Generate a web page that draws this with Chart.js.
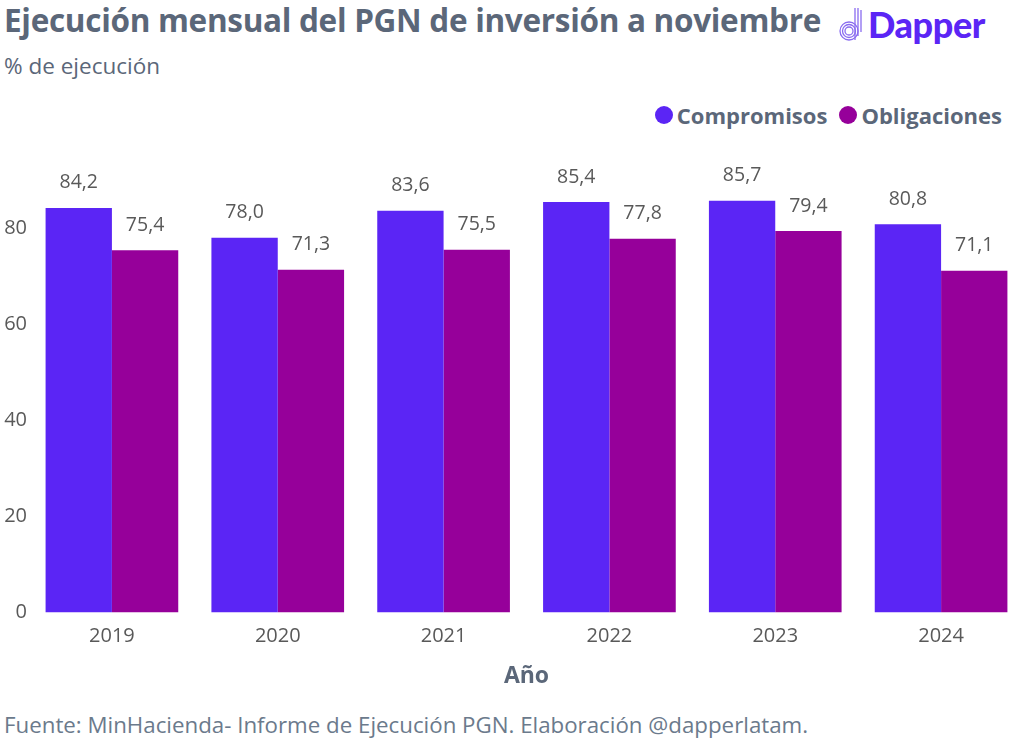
<!DOCTYPE html>
<html><head><meta charset="utf-8">
<script src="https://cdn.jsdelivr.net/npm/chart.js@4"></script>
<style>
body{margin:0;background:#fff;width:1024px;height:739px;overflow:hidden;position:relative;font-family:"Open Sans",sans-serif;}
#title{position:absolute;left:4px;top:-2px;font-size:31.5px;font-weight:700;color:#5b6779;letter-spacing:-0.3px;white-space:nowrap;}
#sub{position:absolute;left:4px;top:50px;font-size:22.5px;color:#5b6779;white-space:nowrap;}
#logo{position:absolute;left:838px;top:2px;display:flex;align-items:center;}
#logo span{font-size:36px;font-weight:900;color:#5b25f5;font-family:"Lato",sans-serif;letter-spacing:-0.4px;}
#legend{position:absolute;right:22px;top:100px;display:flex;align-items:center;font-size:22px;font-weight:700;color:#5b6779;white-space:nowrap;}
#legend i{display:inline-block;width:18px;height:18px;border-radius:50%;margin-right:4px;}
#foot{position:absolute;left:4px;top:709px;font-size:22.3px;color:#6b7a8c;white-space:nowrap;}
#wrap{position:absolute;left:0;top:156px;width:1024px;height:534px;}
</style></head><body>
<div id="title">Ejecución mensual del PGN de inversión a noviembre</div>
<div id="sub">% de ejecución</div>
<div id="logo"><svg width="30" height="40" viewBox="0 0 30 40"><g fill="none" stroke="#8a6cf0" stroke-width="1.3"><circle cx="11" cy="27" r="9"/><circle cx="11" cy="27" r="6.5"/><circle cx="11" cy="27" r="4"/><path d="M17 4 V36 M20 4 V32 M23 6 V28"/></g></svg><span>Dapper</span></div>
<div id="legend"><i style="background:#5b25f5"></i><span style="margin-right:12px">Compromisos</span><i style="background:#96009a"></i><span>Obligaciones</span></div>
<div id="wrap"><canvas id="c"></canvas></div>
<div id="foot">Fuente: MinHacienda- Informe de Ejecución PGN. Elaboración @dapperlatam.</div>
<script>
const categories = ["2019","2020","2021","2022","2023","2024"];
const compromisos = [84.2,78.0,83.6,85.4,85.7,80.8];
const obligaciones = [75.4,71.3,75.5,77.8,79.4,71.1];
const yTicks = [0,20,40,60,80];

const labelPlugin = {
  id:'vlabels',
  afterDatasetsDraw(chart){
    const ctx = chart.ctx;
    ctx.save();
    ctx.font = '19.5px "Open Sans", sans-serif';
    ctx.fillStyle = '#595959';
    ctx.textAlign = 'center';
    ctx.textBaseline = 'middle';
    chart.data.datasets.forEach((ds,i)=>{
      chart.getDatasetMeta(i).data.forEach((bar,j)=>{
        ctx.fillText(ds.data[j].toFixed(1).replace('.',','), bar.x, bar.y-25);
      });
    });
    ctx.restore();
  }
};

new Chart(document.getElementById('c'),{
  type:'bar',
  data:{labels:categories,datasets:[
    {label:'Compromisos',data:compromisos,backgroundColor:'#5b25f5',categoryPercentage:0.8,barPercentage:1},
    {label:'Obligaciones',data:obligaciones,backgroundColor:'#96009a',categoryPercentage:0.8,barPercentage:1}
  ]},
  options:{
    responsive:true,maintainAspectRatio:false,animation:false,
    layout:{padding:0},
    plugins:{legend:{display:false},tooltip:{enabled:false}},
    scales:{
      x:{grid:{display:false,drawTicks:false},border:{display:false},
        afterFit(s){s.paddingLeft=0;s.paddingRight=0;},
        ticks:{color:'#595959',font:{family:'"Open Sans", sans-serif',size:20},padding:12},
        title:{display:true,text:'Año',color:'#5b6779',font:{family:'"Open Sans", sans-serif',size:23,weight:'bold'},padding:{top:2,bottom:0}}},
      y:{min:0,max:95,grid:{display:false,drawTicks:false},border:{display:false},
        afterBuildTicks(s){s.ticks=yTicks.map(v=>({value:v}));},
        afterFit(s){s.width=29;s.paddingTop=0;s.paddingBottom=0;},
        ticks:{color:'#595959',font:{family:'"Open Sans", sans-serif',size:20},padding:2}}
    }
  },
  plugins:[labelPlugin]
});
</script>
</body></html>
